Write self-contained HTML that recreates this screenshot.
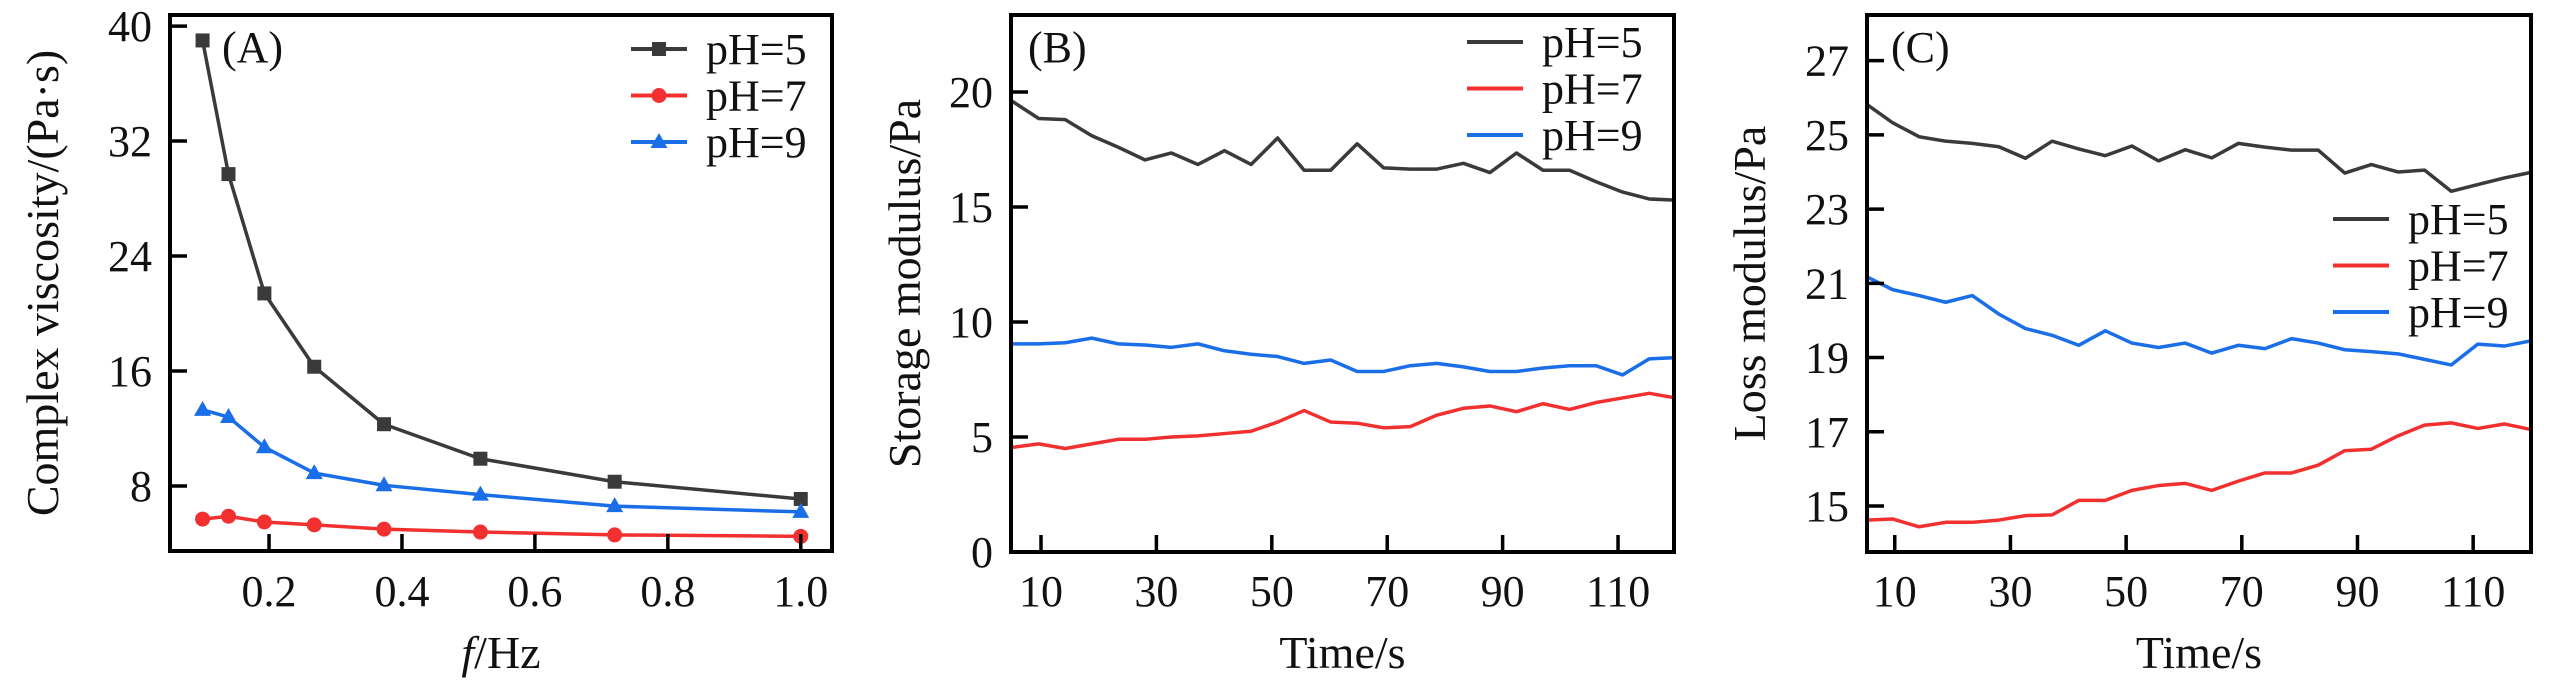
<!DOCTYPE html>
<html><head><meta charset="utf-8"><style>
body{margin:0;background:#fff}
svg{display:block}
text{font-family:"Liberation Serif",serif;fill:#111}
</style></head><body>
<svg id="c" width="2567" height="693" viewBox="0 0 2567 693" xmlns="http://www.w3.org/2000/svg"></svg>
<script>
const freqA=[0.1,0.139,0.193,0.268,0.373,0.518,0.72,1.0];
const viscPH5=[39.0,29.7,21.4,16.3,12.3,9.9,8.3,7.1];
const viscPH7=[5.7,5.9,5.5,5.3,5.0,4.8,4.6,4.5];
const viscPH9=[13.3,12.8,10.7,8.9,8.05,7.4,6.6,6.2];
const timeBC=[5,9.6,14.2,18.8,23.4,28,32.6,37.2,41.8,46.4,51,55.6,60.2,64.8,69.4,74,78.6,83.2,87.8,92.4,97,101.6,106.2,110.8,115.4,120];
const storPH5=[19.6,18.85,18.8,18.1,17.6,17.05,17.35,16.85,17.45,16.85,18.0,16.6,16.6,17.75,16.7,16.65,16.65,16.9,16.5,17.35,16.6,16.6,16.1,15.65,15.35,15.3];
const storPH7=[4.55,4.7,4.5,4.7,4.9,4.9,5.0,5.05,5.15,5.25,5.65,6.15,5.65,5.6,5.4,5.45,5.95,6.25,6.35,6.1,6.45,6.2,6.5,6.7,6.9,6.7];
const storPH9=[9.05,9.05,9.1,9.3,9.05,9.0,8.9,9.05,8.75,8.6,8.5,8.2,8.35,7.85,7.85,8.1,8.2,8.05,7.85,7.85,8.0,8.1,8.1,7.7,8.4,8.45];
const lossPH5=[25.84,25.33,24.95,24.83,24.77,24.68,24.37,24.83,24.62,24.44,24.7,24.3,24.6,24.38,24.77,24.67,24.59,24.59,23.97,24.2,24.0,24.05,23.48,23.66,23.84,23.99];
const lossPH7=[14.62,14.65,14.44,14.56,14.56,14.62,14.74,14.76,15.15,15.15,15.42,15.55,15.61,15.42,15.67,15.89,15.89,16.1,16.49,16.53,16.89,17.18,17.24,17.09,17.21,17.06];
const lossPH9=[21.19,20.83,20.67,20.49,20.67,20.17,19.78,19.6,19.33,19.72,19.39,19.27,19.39,19.12,19.33,19.24,19.51,19.39,19.21,19.16,19.1,18.95,18.8,19.36,19.31,19.45];
const ticksAx=[0.2,0.4,0.6,0.8,1.0];const ticksAxLbl=["0.2","0.4","0.6","0.8","1.0"];
const ticksAy=[8,16,24,32,40];
const ticksT=[10,30,50,70,90,110];
const ticksBy=[0,5,10,15,20];
const ticksCy=[15,17,19,21,23,25,27];
const legendLabels=["pH=5","pH=7","pH=9"];
const COLORS=["#3a3a3a","#f23030","#1a6ee8"];
const NS="http://www.w3.org/2000/svg",svg=document.getElementById('c');
function el(t,a,p){const e=document.createElementNS(NS,t);for(const k in a)e.setAttribute(k,a[k]);(p||svg).appendChild(e);return e;}
function panel(o){
 const g=el('g',{});
 
 
 const sx=v=>o.x0+(v-o.xmin)/(o.xmax-o.xmin)*(o.x1-o.x0);
 const sy=v=>o.y1-(v-o.ymin)/(o.ymax-o.ymin)*(o.y1-o.y0);
 o.series.forEach((s,i)=>{
  const pl=el('polyline',{points:o.xs.map((x,j)=>sx(x)+','+sy(s[j])).join(' '),fill:'none',stroke:COLORS[i],'stroke-width':3.5,'stroke-linejoin':'round'},g);
  
  
  if(o.markers){o.xs.forEach((x,j)=>{const cx=sx(x),cy=sy(s[j]);let m;
   if(i==0)m=el('rect',{x:cx-7,y:cy-7,width:14,height:14,fill:COLORS[i]},g);
   else if(i==1)m=el('circle',{cx:cx,cy:cy,r:7.5,fill:COLORS[i]},g);
   else m=el('polygon',{points:`${cx},${cy-9} ${cx-8.5},${cy+6} ${cx+8.5},${cy+6}`,fill:COLORS[i]},g);
   
   });}
 });
 const fr=el('rect',{x:o.x0,y:o.y0,width:o.x1-o.x0,height:o.y1-o.y0,fill:'none',stroke:'#000','stroke-width':4},g);
 
 
 o.xt.forEach((t,i)=>{const x=sx(t);el('line',{x1:x,x2:x,y1:o.y1,y2:o.y1-17,stroke:'#000','stroke-width':3.5},g);
  const tx=el('text',{x:x,y:606,'font-size':44,'text-anchor':'middle'},g);tx.textContent=o.xl[i];
  
  });
 o.yt.forEach(t=>{const y=sy(t);el('line',{x1:o.x0,x2:o.x0+17,y1:y,y2:y,stroke:'#000','stroke-width':3.5},g);
  const tx=el('text',{x:o.x0-18,y:y+15,'font-size':44,'text-anchor':'end'},g);tx.textContent=t;
  
  });
 const pt=el('text',{x:o.tagx,y:62,'font-size':44},g);pt.textContent=o.tag;
 
 
 const yt=el('text',{x:0,y:0,'font-size':46,'text-anchor':'middle',transform:`translate(${o.ytx},${(o.y0+o.y1)/2}) rotate(-90)`},g);yt.innerHTML=o.ytitle;
 
 
 const xt=el('text',{x:(o.x0+o.x1)/2,y:668,'font-size':46,'text-anchor':'middle'},g);xt.innerHTML=o.xtitle;
 
 
 legendLabels.forEach((l,i)=>{const y=o.leg[1]+i*46.5;const lg=el('g',{},g);
  
  
  el('line',{x1:o.leg[0],x2:o.leg[0]+56,y1:y,y2:y,stroke:COLORS[i],'stroke-width':4},lg);
  const cx=o.leg[0]+28;
  if(o.markers){if(i==0)el('rect',{x:cx-7,y:y-7,width:14,height:14,fill:COLORS[i]},lg);
   else if(i==1)el('circle',{cx:cx,cy:y,r:7.5,fill:COLORS[i]},lg);
   else el('polygon',{points:`${cx},${y-9} ${cx-8.5},${y+6} ${cx+8.5},${y+6}`,fill:COLORS[i]},lg);}
  const t=el('text',{x:o.leg[0]+75,y:y+15,'font-size':44},lg);t.textContent=l;});
}
panel({name:'panel-a-complex-viscosity',x0:170,x1:832,y0:15,y1:551,xmin:0.051,xmax:1.047,ymin:3.48,ymax:40.77,
 xs:freqA,series:[viscPH5,viscPH7,viscPH9],markers:true,xt:ticksAx,xl:ticksAxLbl,yt:ticksAy,tag:'(A)',tagx:222,
 ytx:58,ytitle:'Complex viscosity/(Pa·s)',xtitle:'<tspan font-style="italic">f</tspan>/Hz',leg:[631,49]});
panel({name:'panel-b-storage-modulus',x0:1011,x1:1674,y0:15,y1:552,xmin:4.8,xmax:119.7,ymin:0,ymax:23.35,
 xs:timeBC,series:[storPH5,storPH7,storPH9],markers:false,xt:ticksT,xl:ticksT.map(String),yt:ticksBy,tag:'(B)',tagx:1028,
 ytx:920,ytitle:'Storage modulus/Pa',xtitle:'Time/s',leg:[1467,42]});
panel({name:'panel-c-loss-modulus',x0:1867,x1:2531,y0:15,y1:552,xmin:5.2,xmax:120,ymin:13.76,ymax:28.23,
 xs:timeBC,series:[lossPH5,lossPH7,lossPH9],markers:false,xt:ticksT,xl:ticksT.map(String),yt:ticksCy,tag:'(C)',tagx:1891,
 ytx:1765,ytitle:'Loss modulus/Pa',xtitle:'Time/s',leg:[2333,219]});
</script>
</body></html>
